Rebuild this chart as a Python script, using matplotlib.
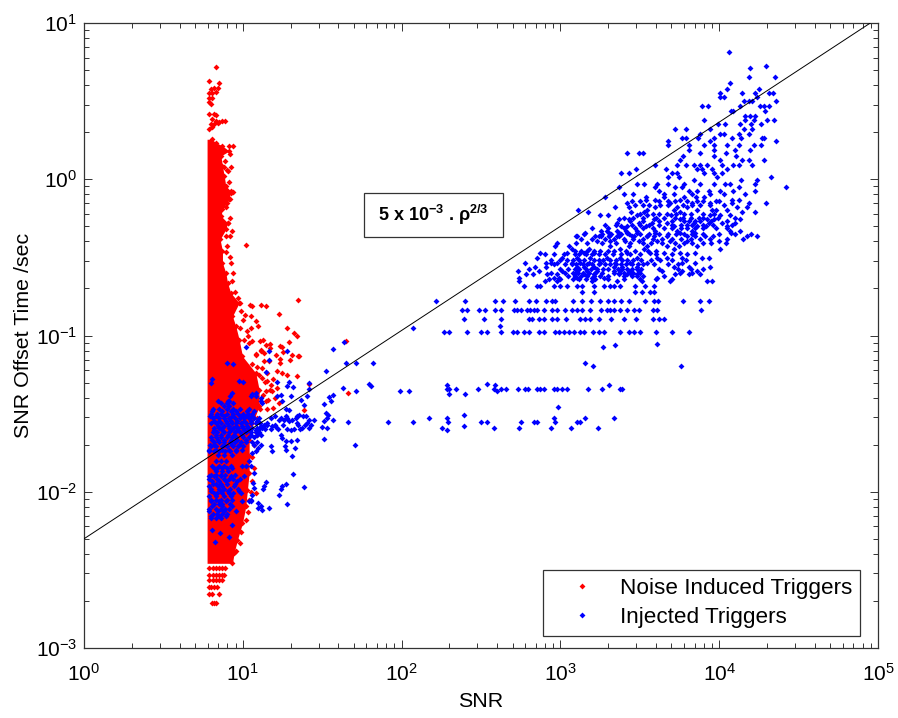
import matplotlib
matplotlib.use("Agg")
import matplotlib.pyplot as plt
import numpy as np
from matplotlib.lines import Line2D
from matplotlib.patches import Rectangle
from matplotlib.ticker import LogFormatterMathtext, LogLocator, NullFormatter

plt.rcParams["font.family"] = ["Liberation Sans", "DejaVu Sans"]
plt.rcParams["mathtext.default"] = "regular"

# right hand edge of the solid red block (too dense to pick out single points)
red_edge_time = [0.256, 0.235, 0.213, 0.181, 0.149, 0.085, 0.021, -0.043, -0.075, -0.129, -0.193, -0.235,
                 -0.278, -0.321, -0.385, -0.46, -0.535, -0.599, -0.663, -0.727, -0.791, -0.877, -0.941,
                 -1.026, -1.133, -1.24, -1.347, -1.453, -1.56, -1.667, -1.774, -1.881, -1.988, -2.094,
                 -2.201, -2.308, -2.394, -2.458]
red_edge_snr = [0.803, 0.83, 0.872, 0.914, 0.862, 0.872, 0.883, 0.893, 0.924, 0.914, 0.872, 0.862,
                0.904, 0.893, 0.857, 0.872, 0.872, 0.893, 0.904, 0.924, 0.977, 0.935, 0.956,
                0.977, 0.998, 1.082, 1.103, 1.103, 1.061, 1.04, 1.04, 1.04, 1.029, 1.019,
                0.998, 0.966, 0.945, 0.935]
red_low_snr = 0.775

# red rows under the block, quantised in time
red_row_time = [-2.485, -2.532, -2.564, -2.609, -2.656, -2.71]
red_row_snr = [[0.788, 0.81, 0.83, 0.85, 0.87, 0.89],
               [0.788, 0.81, 0.83, 0.85, 0.87, 0.88],
               [0.788, 0.81, 0.83, 0.85, 0.872],
               [0.788, 0.80, 0.82, 0.84],
               [0.788, 0.809, 0.851],
               [0.803, 0.82, 0.83]]

# single red points
red_snr = [0.832, 0.788, 0.851, 0.799, 0.82, 0.841, 0.788, 0.809, 0.83, 0.788, 0.809, 0.788, 0.799,
           0.788, 0.82, 0.834, 0.809, 0.83, 0.851, 0.872, 0.887, 0.799, 0.82, 0.788, 0.809, 0.841,
           0.914, 0.941, 0.924, 0.883, 0.904, 0.924, 0.92, 0.893, 0.904, 0.92, 0.893, 0.897, 0.924, 0.935,
           1.023, 1.348, 0.983, 1.046, 1.061, 1.113, 1.145, 1.015, 1.228, 1.054, 1.086, 1.096, 1.281,
           1.05, 1.029, 1.323, 1.34, 1.008, 1.061, 1.109, 1.13, 1.04, 1.145, 1.172, 1.235, 1.249, 1.291,
           1.084, 1.113, 1.134, 1.172, 1.207, 1.256, 1.308, 1.35,
           1.354, 1.298, 1.235, 1.235, 1.113, 1.082, 1.134, 1.166, 1.218, 1.249, 1.277, 1.344, 1.124,
           1.155, 1.176, 1.145, 1.187, 1.218, 1.662, 1.417, 1.384, 1.228, 1.193, 1.145, 1.088, 1.086, 1.648]
red_time = [0.72, 0.628, 0.617, 0.576, 0.581, 0.583, 0.555, 0.555, 0.559, 0.523, 0.523, 0.495, 0.48,
            0.42, 0.416, 0.414, 0.384, 0.373, 0.369, 0.373, 0.371, 0.352, 0.352, 0.32, 0.337, 0.363,
            0.215, 0.215, 0.081, 0.079, 0.053, -0.086, -0.124, -0.178, -0.283, -0.364, -0.364, -0.464, -0.537, -0.652,
            -0.419, -0.774, -0.791, -0.806, -0.812, -0.804, -0.808, -0.868, -0.862, -0.877, -0.909, -0.936, -0.951,
            -0.951, -0.968, -0.983, -1.0, -1.026, -1.037, -1.037, -1.026, -1.047, -1.058, -1.052, -1.065, -1.073, -1.043,
            -1.116, -1.09, -1.111, -1.08, -1.122, -1.105, -1.127, -1.133,
            -1.129, -1.158, -1.15, -1.176, -1.101, -1.122, -1.165, -1.165, -1.229, -1.24, -1.25, -1.261, -1.272,
            -1.293, -1.314, -1.357, -1.357, -1.336, -1.368, -1.308, -1.479, -1.432, -1.464, -1.421, -1.635, -2.009, -1.032]

# red points along the rough side of the block
red_side_snr = [1.06, 1.09, 1.12, 1.15, 1.1, 1.14, 1.19, 1.17, 1.13, 1.16, 1.2, 1.11, 1.15, 1.09, 0.95, 0.97, 0.99,
                1.0, 0.98, 1.03, 0.94, 0.92, 0.9, 0.93, 0.92, 0.9, 0.94, 0.91, 0.9, 0.89, 0.92, 1.08, 1.07, 1.06,
                1.07, 1.06, 1.05, 1.04, 1.03, 1.02, 0.99, 0.98, 0.96]
red_side_time = [-1.18, -1.2, -1.21, -1.24, -1.25, -1.3, -1.28, -1.35, -1.38, -1.41, -1.4, -1.47, -1.47, -1.53,
                 -0.72, -0.76, -0.84, -0.9, -0.95, -1.0, -0.6, -0.5, -0.43, -0.33, -0.25, -0.15, -0.08, -0.02,
                 0.06, 0.12, 0.16, -1.62, -1.7, -1.78, -1.85, -1.93, -2.0, -2.05, -2.13, -2.18, -2.26, -2.33, -2.38]

# blue points, one time value per row
blue_row_time = [0.816, 0.726, 0.709, 0.656, 0.613, 0.576, 0.555, 0.529, 0.502, 0.47, 0.438, 0.406, 0.378, 0.352,
                 0.324, 0.288, 0.267, 0.245, 0.218, 0.188, 0.171, 0.149, 0.123, 0.089, 0.064, 0.042, 0.017, -0.005,
                 -0.028, -0.05, -0.075, -0.097, -0.114, -0.133, -0.15, -0.176, -0.197, -0.21, -0.231, -0.257, -0.278,
                 -0.3, -0.332, -0.364,
                 -0.342, -0.363, -0.395, -0.427, -0.449, -0.47, -0.502, -0.534, -0.56, -0.588, -0.609, -0.63, -0.652,
                 -0.684, -0.72,
                 -0.776, -0.835, -0.897, -0.976, -0.949, -0.936, -1.073, -1.062, -1.056, -1.173, -1.197,
                 -1.342, -1.314, -1.308, -1.372, -1.355, -1.556, -1.528, -1.592, -1.603, -1.577, -1.509, -1.457,
                 -1.368, -1.389, -1.421, -1.453, -1.485, -1.517, -1.55, -1.577, -1.603, -1.635, -1.667, -1.699, -1.731,
                 -1.763, -1.806, -1.838, -1.87, -1.902, -1.934, -1.966, -1.998, -2.03, -2.062, -2.094, -2.126, -2.158,
                 -2.212, -2.244, -2.261, -2.287, -2.323]
blue_row_snr = [[4.061], [4.296], [4.193], [4.353, 4.187], [4.065], [4.049, 4.248],
                [4.003, 4.143, 4.227, 4.311, 4.336], [4.003, 4.032, 4.237], [4.158, 4.206, 4.359, 4.185],
                [3.889, 3.927, 4.133, 4.254, 4.279, 4.313], [4.074, 4.084, 4.29], [4.227, 4.191, 4.164],
                [3.906, 4.164, 4.216, 4.304, 4.348], [3.99, 4.038, 4.133, 4.2, 4.263],
                [3.722, 3.791, 3.94, 4.158, 4.206], [3.877, 4.032, 4.007, 4.126, 4.185],
                [3.768, 3.793, 3.965, 3.864, 4.08, 4.137, 4.269, 4.279], [3.677, 3.944, 4.359],
                [3.677, 3.807, 3.902, 3.965, 4.049, 4.122, 4.216, 4.263], [3.807, 3.965, 4.101, 4.196],
                [3.418, 3.494, 3.521, 3.881, 4.045], [3.772, 3.965, 4.107], [3.755, 4.007, 4.143, 4.185, 4.285],
                [3.598, 3.736, 3.788, 3.84, 3.881, 3.923, 4.017, 4.09, 4.122, 4.206],
                [3.479, 3.665, 3.86, 3.891, 3.955, 4.049], [3.382, 3.429, 3.703, 3.736, 3.902, 3.965, 4.017],
                [3.677, 3.747, 3.988, 4.324], [3.84, 4.137, 4.237],
                [3.484, 3.526, 3.61, 3.677, 3.778, 3.881, 3.965, 4.038, 4.07, 4.227],
                [3.367, 3.598, 3.724, 3.766, 4.122, 4.418], [3.619, 3.807, 3.86, 3.933, 4.007, 4.09, 4.223],
                [3.399, 3.458, 3.65, 3.713, 3.83, 3.944, 4.028, 4.164], [3.283, 3.537, 3.65, 3.778, 3.851, 3.902],
                [3.537, 3.598, 3.755, 4.08, 4.122], [3.421, 3.689, 3.83, 3.944, 4.08, 4.185, 4.296],
                [3.343, 3.431, 3.598, 3.736, 3.799, 4.112, 4.175], [3.112, 3.547, 3.713, 3.86, 3.955, 3.982, 4.049],
                [3.175, 3.442, 3.526, 3.755, 4.143, 4.227], [3.25, 3.299, 3.484, 3.547, 3.694, 3.944, 4.007, 4.07],
                [3.367, 3.431, 3.589, 3.755, 3.923, 3.965, 4.133],
                [3.358, 3.494, 3.579, 3.673, 3.84, 3.933, 4.017, 4.101],
                [3.379, 3.421, 3.537, 3.713, 3.86, 3.915, 4.049],
                [3.253, 3.295, 3.358, 3.41, 3.484, 3.598, 3.736, 3.83, 4.07, 4.133],
                [3.102, 3.221, 3.253, 3.306, 3.367, 3.45, 3.547, 3.673, 3.799, 4.175, 4.237],
                [3.153, 3.304, 3.367, 3.419, 3.482, 3.598, 3.755, 3.849, 4.074],
                [3.101, 3.241, 3.304, 3.356, 3.461, 3.545, 3.587, 3.849, 3.912, 3.964],
                [3.231, 3.315, 3.409, 3.493, 3.608, 3.692, 3.797, 3.996],
                [2.969, 3.052, 3.315, 3.43, 3.545, 3.671, 3.744, 3.86], [3.073, 3.178, 3.377, 3.524, 3.713, 4.002],
                [2.874, 3.042, 3.147, 3.21, 3.419, 3.566, 3.65, 3.755, 3.849],
                [2.853, 3.011, 3.105, 3.189, 3.294, 3.377, 3.482, 3.608, 3.671, 3.765, 3.891, 3.933],
                [2.774, 2.912, 2.941, 2.979, 3.073, 3.126, 3.178, 3.252, 3.346, 3.44, 3.545, 3.765, 3.849],
                [2.843, 2.912, 3.105, 3.147, 3.21, 3.335, 3.388, 3.482, 3.713, 3.807, 3.944],
                [2.732, 2.864, 3.011, 3.105, 3.168, 3.231, 3.335, 3.377, 3.43, 3.493, 3.64, 3.765, 3.86],
                [2.784, 2.828, 2.916, 2.979, 3.094, 3.147, 3.21, 3.367, 3.419, 3.482, 3.723, 3.807, 3.881],
                [2.738, 2.958, 2.99, 3.105, 3.199, 3.277, 3.608],
                [2.738, 2.906, 2.979, 3.199, 3.356, 3.514, 3.692, 3.922, 3.954],
                [2.769, 2.853, 2.874, 2.958, 3.0, 3.042, 3.105, 3.136, 3.21, 3.273, 3.315, 3.335, 3.377, 3.472,
                 3.535, 3.587],
                [3.136, 3.21, 3.472, 3.514, 3.562, 3.587],
                [2.216, 2.40, 2.591, 2.637, 2.711, 2.803, 2.847, 2.91, 2.948, 2.969, 3.08, 3.136, 3.193, 3.252, 3.298,
                 3.335, 3.382, 3.434, 3.533, 3.587, 3.614, 3.774, 3.876, 3.933],
                [2.382, 2.409, 2.486, 2.528, 2.591, 2.627, 2.707, 2.728, 2.749, 2.79, 2.811, 2.832, 2.853, 2.899,
                 2.948, 2.979, 3.031, 3.073, 3.105, 3.136, 3.185, 3.256, 3.294, 3.315, 3.335, 3.377, 3.419, 3.466,
                 3.493, 3.583, 3.608, 3.883],
                [2.394, 2.522, 2.623, 2.801, 2.822, 2.864, 2.899, 2.948, 2.979, 3.038, 3.126, 3.157, 3.189, 3.245,
                 3.319, 3.398, 3.478, 3.583, 3.619, 3.65],
                [2.266, 2.298, 2.413, 2.497, 2.535, 2.623, 2.70, 2.728, 2.769, 2.801, 2.864, 2.895, 2.969, 2.99,
                 3.021, 3.052, 3.084, 3.126, 3.151, 3.205, 3.245, 3.273, 3.377, 3.43, 3.461, 3.499, 3.604, 3.704,
                 3.807],
                [2.071], [2.619], [3.268], [3.342], [3.608], [3.153], [3.206, 3.757],
                [2.287, 2.298, 2.342, 2.48, 2.581, 2.623, 2.658, 2.732, 2.774, 2.795, 2.853, 2.874, 2.895, 2.962,
                 2.979, 3.011, 3.042, 3.176, 3.26, 3.377, 3.388],
                [2.287, 2.591, 3.304], [2.535], [2.298, 2.40], [1.992, 2.046, 2.602],
                [1.914, 2.071, 2.294, 2.503, 2.539, 2.749, 2.832, 2.853, 2.969, 3.105, 3.122],
                [2.172, 2.287, 2.958, 3.153, 3.338], [2.252, 2.581, 2.738, 2.939, 3.065, 3.239], [2.287], [2.394],
                [2.394], [2.988],
                [0.929], [0.92, 1.05, 1.082], [0.841, 0.914, 0.904, 1.113], [0.883, 0.914],
                [0.809, 0.872, 0.924, 0.956, 1.029, 1.071], [0.794, 0.83, 0.883, 0.935, 0.987, 1.019, 1.061],
                [0.82, 0.851, 0.893, 0.924, 0.966, 1.008, 1.05, 1.092], [0.841, 0.883, 0.914, 0.956, 0.998, 1.029, 1.113, 1.134],
                [0.82, 0.872, 0.924, 0.966, 1.008, 1.04, 1.082], [0.83, 0.862, 0.904, 0.945, 0.998, 1.05, 1.092, 1.113],
                [0.803, 0.841, 0.883, 0.924, 0.966, 1.019], [0.794, 0.82, 0.883, 0.935, 0.977, 1.071, 1.113],
                [0.788, 0.83, 0.872, 0.914, 0.956, 0.998], [0.841, 0.883, 0.935], [0.83, 0.862, 0.893],
                [0.809, 0.851, 0.883, 0.924, 0.998, 1.019], [0.83, 0.872, 0.904], [0.788, 0.82, 0.862, 0.924, 1.008],
                [0.809, 0.851, 0.893, 0.966], [0.788, 0.841, 0.872, 0.945], [0.799, 0.862, 0.904, 0.977],
                [0.788, 0.83, 0.883, 0.924], [0.799, 0.851, 0.893, 0.998, 1.05], [0.809, 0.872, 0.935],
                [0.788, 0.841, 0.883, 0.956], [0.799, 0.851, 0.893], [0.935], [0.809], [0.855], [0.91], [0.826]]

# extra blue rows for the places where the points pile up
blue_dense_time = [-0.14, -0.165, -0.22, -0.245, -0.27, -0.29, -0.315, -0.35, -0.38, -0.41,
                   -0.459, -0.481, -0.517, -0.545, -0.573, -0.598, -0.62, -0.641,
                   -1.43, -1.47, -1.5, -1.53, -1.56, -1.59, -1.62, -1.65, -1.68, -1.71, -1.74,
                   -1.85, -1.89, -1.92, -1.95, -1.98, -2.01, -2.05, -2.08, -2.11, -2.14, -2.17,
                   -1.515, -1.575, -1.6]
blue_dense_snr = [[3.45, 3.5, 3.62, 3.68, 3.72, 3.8, 3.86, 3.9, 3.98, 4.0],
                  [3.47, 3.52, 3.56, 3.63, 3.68, 3.77, 3.83, 3.88, 3.94, 4.03],
                  [3.5, 3.58, 3.62, 3.67, 3.73, 3.78, 3.82, 3.9, 3.97],
                  [3.4, 3.46, 3.52, 3.6, 3.65, 3.72, 3.77, 3.82, 3.87, 3.9, 3.99, 4.1],
                  [3.44, 3.52, 3.62, 3.7, 3.78, 3.81, 3.85, 3.88, 3.95, 4.05],
                  [3.28, 3.35, 3.45, 3.5, 3.56, 3.62, 3.7, 3.76, 3.8, 3.83, 3.9, 3.96, 4.08],
                  [3.2, 3.3, 3.4, 3.47, 3.52, 3.58, 3.65, 3.7, 3.76, 3.8, 3.85, 3.9, 3.98, 4.05],
                  [3.15, 3.26, 3.32, 3.38, 3.43, 3.5, 3.56, 3.62, 3.68, 3.73, 3.78, 3.83, 3.9, 4.0, 4.1, 4.2],
                  [3.13, 3.2, 3.28, 3.34, 3.4, 3.46, 3.52, 3.58, 3.64, 3.7, 3.76, 3.82, 3.88, 3.94, 4.05, 4.15],
                  [2.98, 3.1, 3.17, 3.26, 3.35, 3.44, 3.52, 3.57, 3.64, 3.72, 3.78, 3.83, 3.9, 3.95, 4.04],
                  [3.09, 3.13, 3.17, 3.21, 3.25, 3.3, 3.34, 3.41, 3.47, 3.55, 3.6],
                  [2.9, 2.96, 3.02, 3.09, 3.12, 3.16, 3.2, 3.24, 3.28, 3.33, 3.38, 3.44, 3.5, 3.6, 3.7, 3.8],
                  [2.94, 3.0, 3.04, 3.08, 3.12, 3.15, 3.21, 3.24, 3.27, 3.31, 3.35, 3.39, 3.42, 3.46, 3.51, 3.57,
                   3.63, 3.7, 3.79],
                  [2.96, 3.03, 3.07, 3.1, 3.14, 3.17, 3.2, 3.24, 3.28, 3.31, 3.35, 3.38, 3.41, 3.45, 3.49, 3.52,
                   3.59, 3.68, 3.74],
                  [2.8, 3.0, 3.05, 3.09, 3.12, 3.16, 3.19, 3.23, 3.27, 3.3, 3.36, 3.39, 3.42, 3.45, 3.48, 3.51,
                   3.62, 3.74, 3.82, 3.9],
                  [2.94, 3.03, 3.08, 3.11, 3.14, 3.18, 3.22, 3.26, 3.34, 3.37, 3.4, 3.44, 3.46, 3.5, 3.75, 3.83],
                  [3.05, 3.09, 3.13, 3.17, 3.21, 3.25, 3.3, 3.4, 3.45, 3.48, 3.52, 3.65],
                  [2.93, 3.0, 3.08, 3.12, 3.16, 3.22, 3.3, 3.4, 3.5, 3.6, 3.7],
                  [0.86, 0.9, 0.94], [0.81, 0.85, 0.9, 0.94, 0.98, 1.04],
                  [0.8, 0.84, 0.86, 0.9, 0.94, 0.97, 1.0, 1.03, 1.06],
                  [0.81, 0.85, 0.88, 0.91, 0.95, 0.98, 1.01, 1.04, 1.07, 1.1],
                  [0.8, 0.83, 0.86, 0.9, 0.93, 0.96, 0.99, 1.02, 1.05, 1.08, 1.11],
                  [0.82, 0.85, 0.87, 0.91, 0.94, 0.97, 1.0, 1.03, 1.06, 1.09, 1.12],
                  [0.81, 0.84, 0.88, 0.91, 0.95, 0.98, 1.02, 1.05, 1.08, 1.1],
                  [0.8, 0.83, 0.86, 0.9, 0.93, 0.96, 1.0, 1.04, 1.07],
                  [0.82, 0.85, 0.88, 0.92, 0.95, 0.99, 1.02, 1.06, 1.09],
                  [0.8, 0.83, 0.87, 0.9, 0.94, 0.97, 1.0], [0.79, 0.82, 0.85, 0.89, 0.92, 0.96],
                  [0.82, 0.84, 0.87, 0.9, 0.93], [0.8, 0.83, 0.86, 0.89, 0.95],
                  [0.79, 0.84, 0.88, 0.91, 0.94, 0.98], [0.81, 0.83, 0.86, 0.9, 0.95],
                  [0.8, 0.85, 0.88, 0.92, 0.97], [0.82, 0.84, 0.87, 0.91, 0.94, 0.99],
                  [0.8, 0.83, 0.86, 0.9, 0.93], [0.82, 0.85, 0.87, 0.92], [0.79, 0.83, 0.86, 0.89, 0.91],
                  [0.81, 0.84, 0.87, 0.9], [0.8, 0.83, 0.86],
                  [1.2, 1.27, 1.34, 1.38], [1.15, 1.2, 1.25, 1.35, 1.39, 1.43],
                  [1.1, 1.14, 1.18, 1.22, 1.28, 1.36]]

# blue points between the block and the bands
blue_snr = [1.568, 1.637, 1.652, 1.711, 1.82, 1.526, 1.631, 1.715, 1.797, 1.805, 1.57, 1.543, 1.553, 1.511, 1.417,
            1.417, 1.319, 1.291, 1.281, 1.218, 1.145, 1.166, 1.166, 1.281, 1.019, 0.901, 0.939, 0.803, 0.799, 0.977,
            1.0, 1.057, 1.082, 1.113, 1.124, 1.218, 1.239, 1.245, 1.302, 1.365, 1.407, 1.27, 1.291, 1.386,
            1.134, 1.155, 1.176, 1.187, 1.207, 1.228, 1.239, 1.26, 1.281, 1.291, 1.312, 1.333, 1.354, 1.344, 1.375,
            1.396, 1.417, 1.449, 1.407, 1.417, 1.511, 1.532, 1.568, 1.522, 1.537, 1.501, 1.532, 1.665, 1.511, 1.704,
            1.239, 1.249, 1.27, 1.302, 1.344, 1.302, 1.323, 1.264, 1.27, 1.327, 1.308, 1.176, 1.187, 1.082, 1.096,
            1.061, 1.04, 1.05, 1.071, 1.067, 1.071, 1.316, 1.149, 1.134, 1.13, 1.275, 1.249, 1.243, 1.384, 1.228,
            1.281, 1.096, 1.113, 1.096, 1.119, 1.166, 1.05, 1.04, 1.057]
blue_time = [-1.086, -1.043, -1.176, -1.176, -1.176, -1.229, -1.336, -1.357, -1.308, -1.321, -1.379, -1.394, -1.421,
             -1.436, -1.304, -1.342, -1.332, -1.3, -1.325, -1.3, -1.233, -1.154, -1.097, -1.101, -1.073, -1.176, -1.18,
             -1.278, -1.304, -1.293, -1.297, -1.372, -1.368, -1.4, -1.432, -1.389, -1.379, -1.421, -1.389, -1.411,
             -1.389, -1.47, -1.479, -1.443,
             -1.571, -1.56, -1.528, -1.582, -1.586, -1.539, -1.528, -1.539, -1.528, -1.55, -1.539, -1.528, -1.507,
             -1.56, -1.592, -1.517, -1.539, -1.543, -1.56, -1.592, -1.55, -1.528, -1.543, -1.496, -1.507, -1.586,
             -1.592, -1.556, -1.663, -1.703, -1.635, -1.656, -1.678, -1.678, -1.667, -1.607, -1.599, -1.71, -1.731,
             -1.72, -1.77, -1.71, -1.742, -1.742, -1.72, -1.753, -1.806, -1.838, -1.881, -1.945, -1.977, -1.887,
             -1.938, -1.966, -1.981, -1.951, -1.966, -1.981, -1.968, -2.02, -2.077, -2.069, -2.088, -2.105, -2.116,
             -2.105, -2.052, -2.062, -2.02]

line_snr = [1, 1e5]
line_time = [0.005, 10.77]
legend_labels = ["Noise Induced Triggers", "Injected Triggers"]

red_x = list(red_snr) + list(red_edge_snr) + list(red_side_snr)
red_y = list(red_time) + list(red_edge_time) + list(red_side_time)
for t, row in zip(red_row_time, red_row_snr):
    red_x += row
    red_y += [t] * len(row)
blue_x = list(blue_snr)
blue_y = list(blue_time)
for t, row in zip(blue_row_time + blue_dense_time, blue_row_snr + blue_dense_snr):
    blue_x += row
    blue_y += [t] * len(row)

fig = plt.figure(figsize=(8.98, 7.18), dpi=100)
ax = fig.add_axes([84 / 898, 1 - 648 / 718, 794 / 898, 625 / 718])

ax.fill_betweenx(10.0 ** np.array(red_edge_time), 10.0 ** red_low_snr, 10.0 ** np.array(red_edge_snr),
                 color="#ff0000", linewidth=0, zorder=1)
ax.scatter(10.0 ** np.array(red_x), 10.0 ** np.array(red_y), s=9, color="#ff0000", marker="D", linewidths=0, zorder=2)
ax.scatter(10.0 ** np.array(blue_x), 10.0 ** np.array(blue_y), s=9, color="#0000ff", marker="D", linewidths=0, zorder=3)
ax.plot(line_snr, line_time, color="black", linewidth=0.7, zorder=4)

ax.set_xscale("log")
ax.set_yscale("log")
ax.set_xlim(1, 1e5)
ax.set_ylim(1e-3, 10)
ax.xaxis.set_major_locator(LogLocator(base=10, numticks=10))
ax.yaxis.set_major_locator(LogLocator(base=10, numticks=10))
ax.xaxis.set_minor_locator(LogLocator(base=10, subs=np.arange(2, 10), numticks=10))
ax.yaxis.set_minor_locator(LogLocator(base=10, subs=np.arange(2, 10), numticks=10))
ax.xaxis.set_major_formatter(LogFormatterMathtext())
ax.yaxis.set_major_formatter(LogFormatterMathtext())
ax.xaxis.set_minor_formatter(NullFormatter())
ax.yaxis.set_minor_formatter(NullFormatter())
ax.tick_params(which="major", direction="in", length=5.5, width=0.7, color="#333333", top=True, right=True, labelsize=15)
ax.tick_params(which="minor", direction="in", length=3.5, width=0.7, color="#333333", top=True, right=True)
ax.tick_params(axis="x", which="major", pad=11)
ax.tick_params(axis="y", which="major", pad=5)
for s in ax.spines.values():
    s.set_linewidth(0.9)
    s.set_color("#333333")
ax.set_xlabel("SNR", fontsize=15.4, labelpad=5)
ax.set_ylabel("SNR Offset Time /sec", fontsize=15.4, labelpad=2)

# label box drawn by hand, wider than a text bbox would make it
fig.add_artist(Rectangle((364 / 898, 1 - 237 / 718), 139 / 898, 44 / 718, transform=fig.transFigure,
                         facecolor="white", edgecolor="#333333", linewidth=0.9, zorder=5))
fig.text(433 / 898, 1 - 215 / 718, r"5 x 10$^{-3}$ . $\rho^{2/3}$", fontsize=13, ha="center", va="center",
         fontweight="bold", zorder=6)

handles = [Line2D([], [], linestyle="none", marker="D", markersize=3, color="#ff0000", markeredgewidth=0),
           Line2D([], [], linestyle="none", marker="D", markersize=3, color="#0000ff", markeredgewidth=0)]
leg = ax.legend(handles, legend_labels, loc="lower right", bbox_to_anchor=(860 / 898, 1 - 636 / 718),
                bbox_transform=fig.transFigure, fontsize=16.2, fancybox=False, framealpha=1, edgecolor="#333333",
                borderaxespad=0, borderpad=0.35, labelspacing=0.37, handletextpad=0.28, handlelength=2.76)
leg.get_frame().set_linewidth(0.9)

plt.savefig("out.png", dpi=100)
